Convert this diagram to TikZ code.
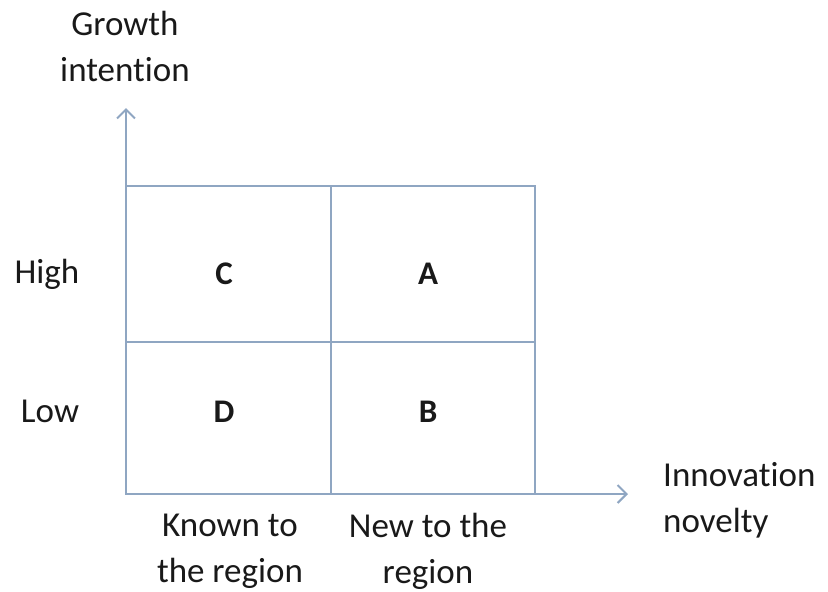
\documentclass[tikz,border=0pt]{standalone}
\usepackage{fontspec}
\setmainfont{Carlito}[RawFeature={-liga;-clig;-dlig}]
\usetikzlibrary{arrows.meta}
\definecolor{gridc}{RGB}{143,166,194}
\begin{document}
\begin{tikzpicture}[x=1pt,y=-1pt,
  lbl/.style={font=\fontsize{35}{46}\selectfont, text=black!90, inner sep=0pt},
  cell/.style={font=\fontsize{33}{36}\selectfont\bfseries, text=black!90},
  gline/.style={draw=gridc, line width=1.8pt},
  axis/.style={draw=gridc, line width=1.8pt, -{Straight Barb[length=9pt,width=18pt,line width=2pt]}}]
\useasboundingbox (0,0) rectangle (828,592);
% grid
\coordinate (o) at (126,494);
\coordinate (yend) at (126,108);
\coordinate (xend) at (628,494);
\draw[gline] (126,186) rectangle (535,494);
\draw[gline] (331,186) -- (331,494);
\draw[gline] (126,342) -- (535,342);
\draw[axis] (o) -- (yend);
\draw[axis] (o) -- (xend);
% cell letters
\node[cell] (c) at (224,274) {C};
\node[cell] (a) at (428,274) {A};
\node[cell] (d) at (224,412) {D};
\node[cell] (b) at (428,412) {B};
% labels
\node[lbl, align=center] (gi) at (125,46) {Growth\\intention};
\node[lbl] (high) at (47,274) {High};
\node[lbl] (low) at (50,411) {Low};
\node[lbl, align=left, anchor=west] (inn) at (663,500) {Innovation\\novelty};
\node[lbl, align=center] (known) at (230,551) {Known to\\the region};
\node[lbl, align=center] (new) at (428,551) {New to the\\region};
\end{tikzpicture}
\end{document}
